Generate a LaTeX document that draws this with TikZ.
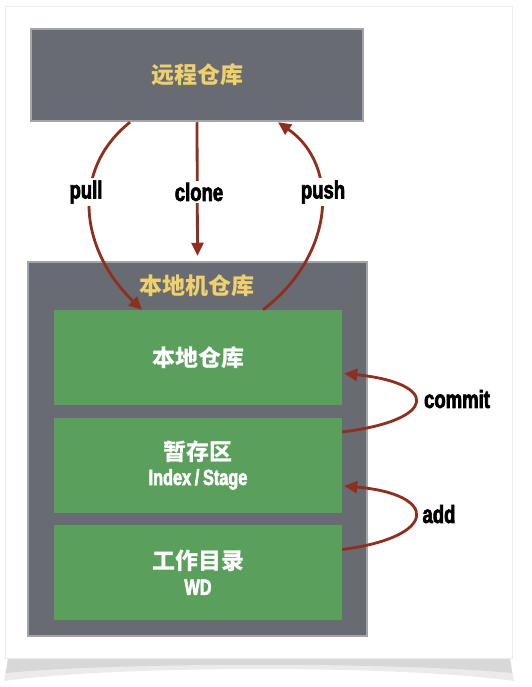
\documentclass[tikz,border=0pt]{standalone}
\usepackage{fontspec}
\newfontfamily\cjk{Noto Sans CJK SC}
\newfontfamily\labelfont[FakeStretch=0.74, FakeBold=2.6]{Liberation Sans}
\newcommand\subfont{\labelfont\bfseries\fontsize{22}{22}\selectfont}
\usetikzlibrary{arrows.meta}
\definecolor{repogray}{HTML}{686B71}
\definecolor{rimgray}{HTML}{A3A5A8}
\definecolor{areagreen}{HTML}{5A9F5C}
\definecolor{titleyellow}{HTML}{EED06E}
\definecolor{flowred}{HTML}{8E2F1F}
\begin{document}
\begin{tikzpicture}[x=1pt, y=-1pt,
	repo/.style={draw=rimgray, line width=2.5pt, fill=repogray, inner sep=0},
	area/.style={fill=areagreen, minimum width=288pt, minimum height=95pt, inner sep=0, align=center,
		text=white, font=\cjk\bfseries\fontsize{23}{28}\selectfont},
	flow/.style={flowred, line width=2.8pt, -{Triangle[length=13pt, width=12pt]}},
	l/.style={fill=white, inner sep=2pt, font=\labelfont\bfseries\fontsize{25}{25}\selectfont}]
	\useasboundingbox (0,0) rectangle (531,687);
	\fill[white] (0,0) rectangle (531,687);

	% card with its shadow
	\fill[gray!25, opacity=0.6] (8,658) -- (510,658) -- (514,681) .. controls (400,665) and (120,665) .. (4,681) -- cycle;
	\fill[gray!45, opacity=0.5] (8,658) -- (510,658) -- (512,673) .. controls (400,662) and (120,662) .. (6,673) -- cycle;
	\draw[gray!15, fill=white] (5,6) rectangle (512,658);

	% boxes
	\node[repo, minimum width=332pt, minimum height=92pt] (remote) at (197,75) {};
	\node[text=titleyellow, font=\cjk\bfseries\fontsize{23}{23}\selectfont] (remotetitle) at (remote.center) {远程仓库};
	\node[repo, minimum width=339pt, minimum height=374pt] (local) at (197.5,449) {};
	\node[text=titleyellow, font=\cjk\bfseries\fontsize{23}{23}\selectfont] (localtitle) at (197,286) {本地机仓库};

	\node[area] (store) at (198,357.5) {本地仓库};
	\node[area] (stage) at (198,465) {暂存区\\[-3pt]{\subfont Index\,/\,Stage}};
	\node[area] (wd) at (198,572.5) {工作目录\\[-3pt]{\subfont WD}};

	% connectors
	\draw[flow] ([xshift=-67pt]remote.south) .. controls (70,170) and (80,250) .. ([xshift=-56pt]store.north);
	\draw[flow] (remote.south) -- ([yshift=5pt]local.north);
	\draw[flow] ([xshift=65pt]store.north) .. controls (335,255) and (340,165) .. ([xshift=81pt]remote.south);
	\draw[flow] ([yshift=33pt]stage.east) .. controls (439,420) and (439,383) .. ([xshift=2pt,yshift=-16pt]store.east);
	\draw[flow] ([yshift=23pt]wd.east) .. controls (439,537) and (439,494) .. ([xshift=2pt,yshift=-21pt]stage.east);

	\node[l] (pull) at (86,192) {pull};
	\node[l] (clone) at (199,192) {clone};
	\node[l] (push) at (323,192) {push};
	\node[l] (commit) at (457,399) {commit};
	\node[l] (add) at (439,514) {add};
\end{tikzpicture}
\end{document}
